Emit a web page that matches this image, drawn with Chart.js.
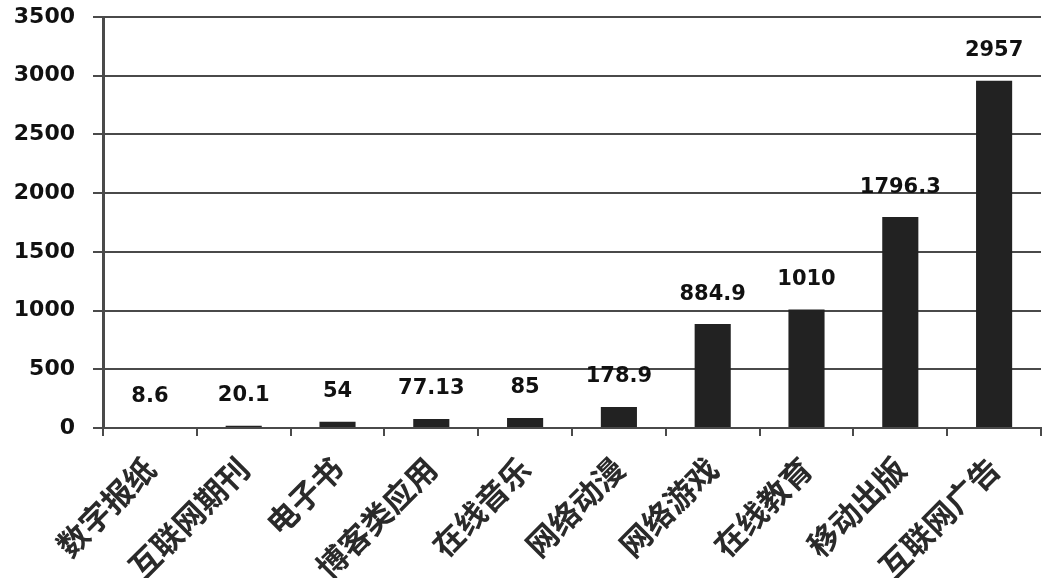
<!DOCTYPE html>
<html lang="zh">
<head>
    <meta charset="UTF-8">
    <title>数字出版各领域收入</title>
    <script src="https://cdn.jsdelivr.net/npm/chart.js"></script>
    <style>
        body { margin: 0; background: #ffffff; }
        .wrap { width: 1062px; height: 578px; position: relative; }
    </style>
</head>
<body>
    <div class="wrap">
        <canvas id="chart"></canvas>
    </div>

    <script>
        // data
        const categories = ['数字报纸', '互联网期刊', '电子书', '博客类应用', '在线音乐', '网络动漫', '网络游戏', '在线教育', '移动出版', '互联网广告'];
        const values = [8.6, 20.1, 54, 77.13, 85, 178.9, 884.9, 1010, 1796.3, 2957];
        const valueLabels = ['8.6', '20.1', '54', '77.13', '85', '178.9', '884.9', '1010', '1796.3', '2957'];
        const yTicks = [0, 500, 1000, 1500, 2000, 2500, 3000, 3500];

        const axisColor = '#4a4a4a';

        // value labels sit a fixed distance above each bar
        const barLabels = {
            id: 'barLabels',
            afterDatasetsDraw(chart) {
                const ctx = chart.ctx;
                const meta = chart.getDatasetMeta(0);
                ctx.save();
                ctx.font = 'bold 21px "DejaVu Sans", sans-serif';
                ctx.fillStyle = '#111';
                ctx.textAlign = 'center';
                ctx.textBaseline = 'middle';
                meta.data.forEach((bar, i) => {
                    ctx.fillText(valueLabels[i], bar.x, bar.y - 30);
                });
                ctx.restore();
            }
        };

        new Chart(document.getElementById('chart'), {
            type: 'bar',
            data: {
                labels: categories,
                datasets: [{
                    data: values,
                    backgroundColor: '#222222',
                    barPercentage: 0.77,
                    categoryPercentage: 0.5
                }]
            },
            options: {
                responsive: true,
                maintainAspectRatio: false,
                animation: false,
                layout: { padding: { top: 0, right: 21, left: 0, bottom: 0 } },
                plugins: {
                    legend: { display: false },
                    tooltip: { enabled: false }
                },
                scales: {
                    x: {
                        grid: {
                            offset: true,
                            drawOnChartArea: false,
                            drawTicks: true,
                            tickLength: 8,
                            color: axisColor,
                            lineWidth: 2
                        },
                        border: { color: axisColor, width: 2 },
                        ticks: {
                            autoSkip: false,
                            maxRotation: 45,
                            minRotation: 45,
                            color: '#2a2a2a',
                            padding: 14,
                            font: { family: '"Noto Sans CJK SC", sans-serif', size: 31, weight: 'bold' }
                        },
                        afterFit(scale) { scale.height = 150; }
                    },
                    y: {
                        min: 0,
                        max: 3500,
                        afterBuildTicks(scale) {
                            scale.ticks = yTicks.map(v => ({ value: v }));
                        },
                        grid: {
                            color: axisColor,
                            lineWidth: 2,
                            drawTicks: true,
                            tickLength: 10
                        },
                        border: { color: axisColor, width: 3 },
                        ticks: {
                            color: '#111',
                            padding: 18,
                            font: { family: '"DejaVu Sans", sans-serif', size: 22, weight: 'bold' },
                            callback: v => String(v)
                        },
                        afterFit(scale) {
                            scale.width = 103;
                            scale.paddingTop = 17;
                        }
                    }
                }
            },
            plugins: [barLabels]
        });
    </script>
</body>
</html>
